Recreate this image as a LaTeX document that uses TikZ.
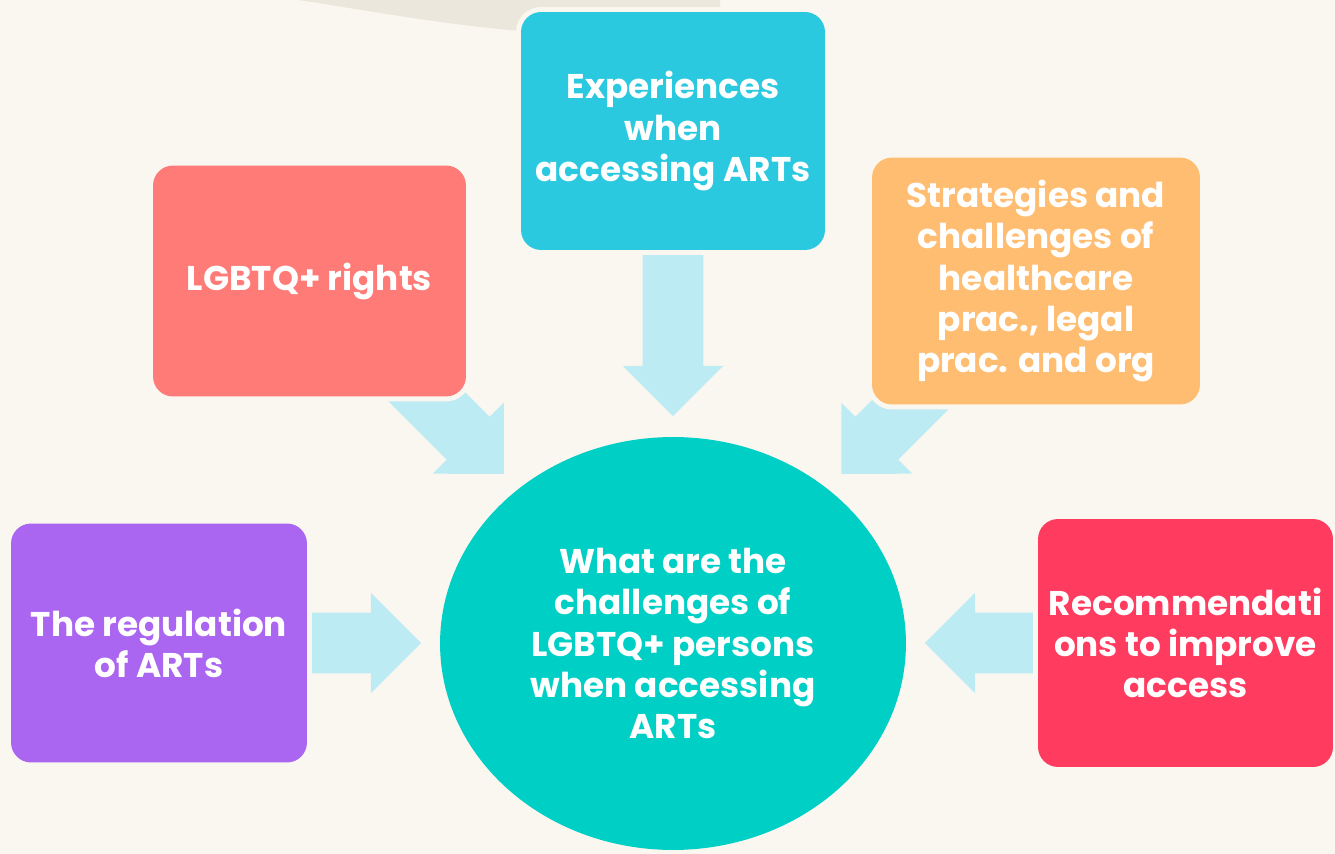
\documentclass[tikz,border=0pt]{standalone}
\usepackage{fontspec}
\setmainfont{Poppins}
\usetikzlibrary{shapes.geometric, shapes.arrows}

\definecolor{paper}{HTML}{FAF7F0}
\definecolor{blob}{HTML}{EBE7DD}
\definecolor{arrowblue}{HTML}{BDEBF3}
\definecolor{cyanbox}{HTML}{2BC9DF}
\definecolor{pinkbox}{HTML}{FF7B78}
\definecolor{orangebox}{HTML}{FFBD71}
\definecolor{purplebox}{HTML}{AA66F0}
\definecolor{redbox}{HTML}{FF3C60}
\definecolor{tealcircle}{HTML}{00CFC5}

\begin{document}
\begin{tikzpicture}[x=0.02cm, y=-0.02cm,
	topic/.style={rectangle, rounded corners=0.4cm, inner sep=0pt, align=center,
		text=white, font=\fontsize{19.5}{23.4}\selectfont\bfseries,
		preaction={draw=paper, line width=0.2cm}},
	bigarrow/.style={single arrow, fill=arrowblue, inner xsep=0pt, inner ysep=0.6cm,
		single arrow head extend=0.4cm, single arrow tip angle=90}]
		\useasboundingbox[fill=paper] (0, 0) rectangle (1335, 854);
		\fill[blob] (285, -2) .. controls (380, 12) and (450, 27) .. (560, 34) -- (720, 34) -- (720, -2) -- cycle;
		
		% block arrows towards the centre
		\node[bigarrow, minimum height=3.6cm, rotate=-90] (aTop) at (673, 311) {};
		\node[bigarrow, minimum height=3cm, rotate=-45] (aLeft) at (440, 410) {};
		\node[bigarrow, minimum height=3cm, rotate=-135] (aRight) at (905, 410) {};
		\node[bigarrow, minimum height=2.6cm] (aWest) at (341, 643) {};
		\node[bigarrow, minimum height=2.6cm, rotate=180] (aEast) at (1005, 643) {};
		
		\node[topic, fill=cyanbox, minimum width=6.08cm, minimum height=4.76cm] (exp) at (673, 131) {Experiences\\when\\accessing ARTs};
		\node[topic, fill=pinkbox, minimum width=6.26cm, minimum height=4.62cm] (rights) at (309.5, 281) {LGBTQ+ rights};
		\node[topic, fill=orangebox, minimum width=6.56cm, minimum height=4.94cm] (strat) at (1036, 281) {Strategies and\\challenges of\\healthcare\\prac., legal\\prac. and org};
		\node[topic, fill=purplebox, minimum width=5.92cm, minimum height=4.78cm] (reg) at (159, 643) {The regulation\\of ARTs};
		\node[topic, fill=redbox, minimum width=5.9cm, minimum height=4.96cm] (rec) at (1185.5, 643) {Recommendati\\ons to improve\\access};
		
		\node[ellipse, fill=tealcircle, inner sep=0pt, minimum width=9.32cm, minimum height=8.26cm,
			align=center, text=white, font=\fontsize{19.5}{23.4}\selectfont\bfseries] (q) at (673, 643.5)
			{What are the\\challenges of\\LGBTQ+ persons\\when accessing\\ARTs};
	\end{tikzpicture}
\end{document}
